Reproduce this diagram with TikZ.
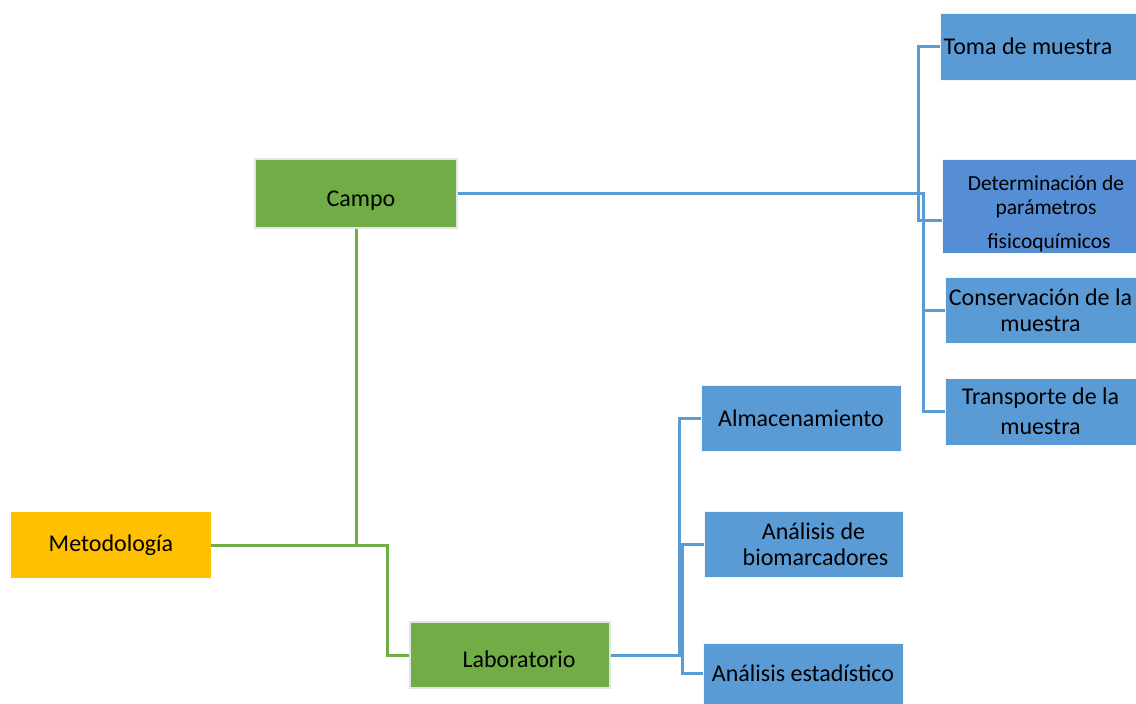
\documentclass[tikz,border=0pt]{standalone}
\usepackage{fontspec}
\setmainfont{Carlito}
\usepackage{xcolor}
\usepackage{tikz}
\usetikzlibrary{calc,positioning}
\definecolor{metoyellow}{HTML}{FFC000}
\definecolor{stagegreen}{HTML}{70AD47}
\definecolor{taskblue}{HTML}{5B9BD5}
\definecolor{taskdeep}{HTML}{558ED5}
\definecolor{edgegray}{HTML}{E4E4E4}

\begin{document}
\begin{tikzpicture}[
  x=1pt, y=-1pt,
  box/.style={
    rectangle, inner sep=0pt, align=center,
    minimum width=200pt, minimum height=66pt,
    font=\fontsize{24}{26}\selectfont, text=black,
  },
  stagebox/.style={box, fill=stagegreen, draw=edgegray, line width=1.5pt,
    text height=28pt, text depth=3pt},
  taskbox/.style={box, fill=taskblue, draw=white!96!black, line width=1pt},
  greenline/.style={draw=stagegreen, line width=3pt},
  blueline/.style={draw=taskblue, line width=3pt},
]
\useasboundingbox (0,0) rectangle (1136,704);

% Root and stages
\node[box, fill=metoyellow] (meto) at (111,545) {Metodología};
\node[stagebox, minimum width=202pt, minimum height=69pt] (campo) at (356,193.5) {\hspace*{10pt}Campo};
\node[stagebox] (lab) at (510,655) {\hspace*{18pt}Laboratorio};

% Field tasks
\node[taskbox, minimum width=196pt, minimum height=67pt] (toma) at (1038,46.5) {Toma de muestra\hspace*{20pt}};
\node[taskbox, fill=taskdeep, minimum width=194pt, minimum height=94pt,
      font=\fontsize{21.5}{24}\selectfont] (det) at (1039,206)
  {\rule{0pt}{31pt}\hspace*{14pt}Determinación de\\\hspace*{14pt}parámetros\\[10pt]\hspace*{20pt}fisicoquímicos};
\node[taskbox, minimum width=191pt] (cons) at (1040.5,310) {Conservación de la\\muestra};
\node[taskbox, minimum width=191pt, minimum height=67pt] (trans) at (1040.5,411.5) {Transporte de la\\[4pt]muestra};

% Lab tasks
\node[taskbox] (alma) at (801,418) {Almacenamiento};
\node[taskbox, minimum width=199pt] (bio) at (803.5,544) {\hspace*{20pt}Análisis de\\\hspace*{24pt}biomarcadores};
\node[taskbox, minimum height=61pt] (est) at (803,673.5) {Análisis estadístico};

% Green connectors
\draw[greenline] (meto.east) -- (campo.south |- meto.east) coordinate (jm);
\draw[greenline] (campo.south) -- (jm);
\draw[greenline] (jm) -- ++(31,0) |- (lab.west);

% Blue connectors, field side
\coordinate (fa) at (918,0);
\coordinate (fb) at (923,0);
\coordinate (detin) at ([yshift=-14pt]det.west);
\draw[blueline] (campo.east) -- (fb |- campo.east) |- (trans.west);
\draw[blueline] (fb |- cons.west) -- (cons.west);
\draw[blueline] (toma.west) -| (fa |- detin) -- (detin);

% Blue connectors, lab side
\coordinate (la) at (679,0);
\coordinate (lb) at (682,0);
\draw[blueline] (lab.east) -- (lb |- lab.east);
\draw[blueline] (la |- lab.east) |- (alma.west);
\draw[blueline] (bio.west) -| (lb |- est.west) -- (est.west);

\end{tikzpicture}
\end{document}
